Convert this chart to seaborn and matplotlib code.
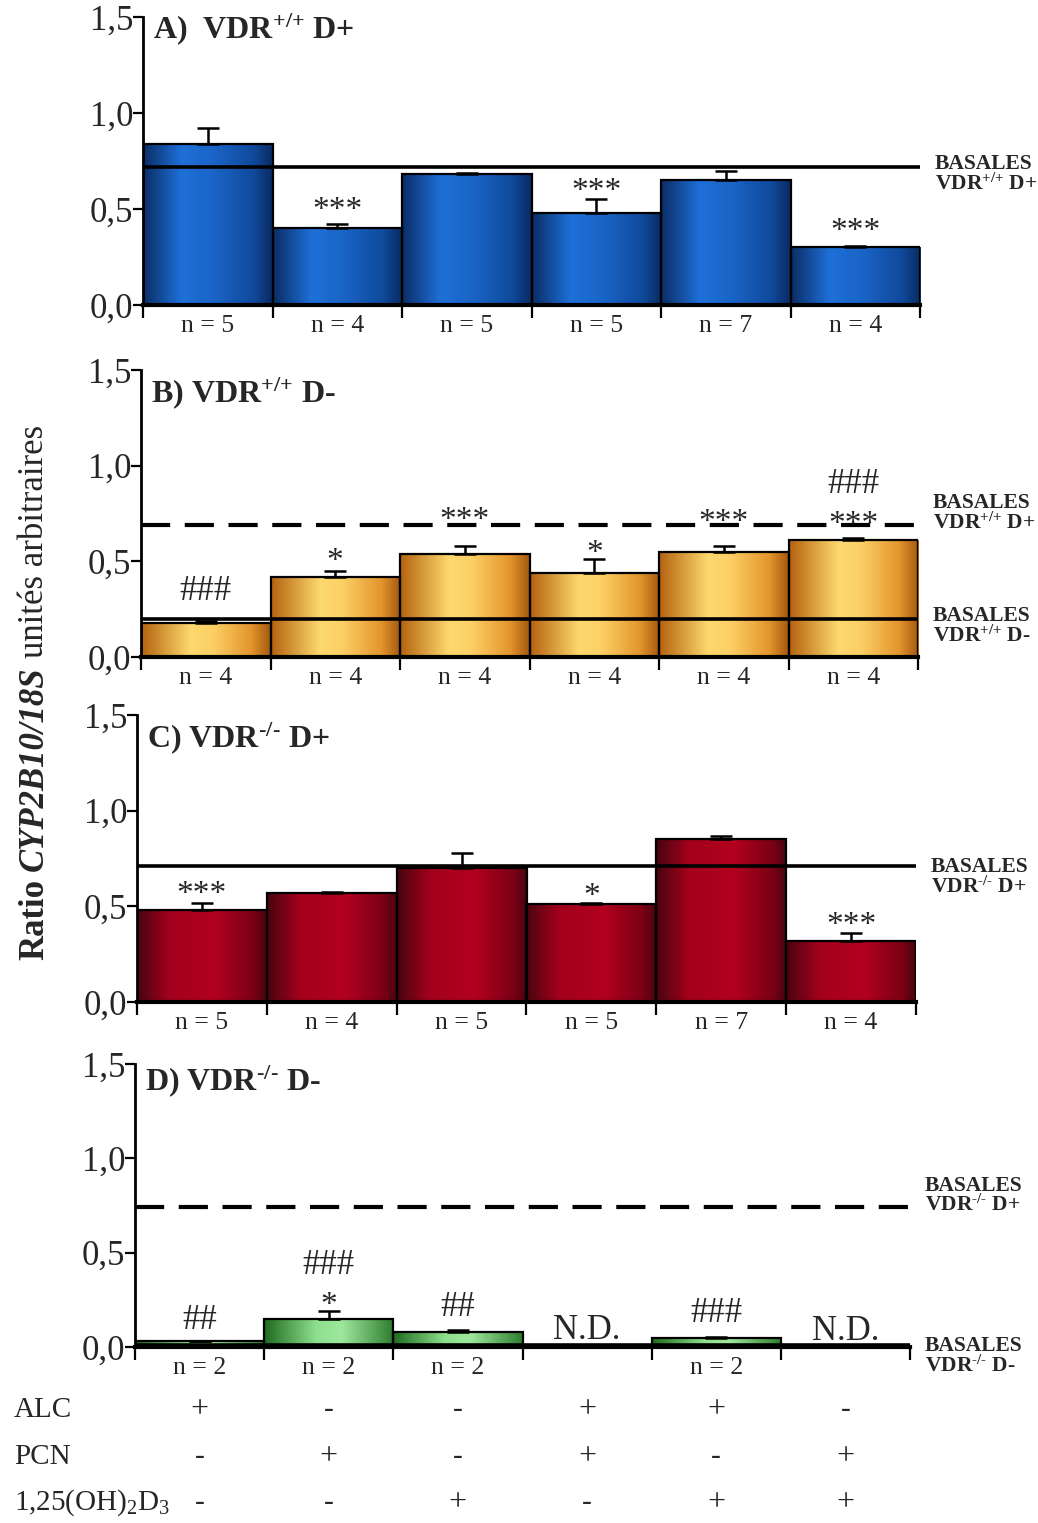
import numpy as np
import pandas as pd
import matplotlib
matplotlib.use('Agg')
import matplotlib.pyplot as plt
import matplotlib.transforms as mtransforms
from matplotlib.colors import LinearSegmentedColormap
import seaborn as sns

sns.set_style('ticks')
plt.rcParams['font.family'] = ['Liberation Serif', 'DejaVu Serif']
plt.rcParams['mathtext.fontset'] = 'custom'
plt.rcParams['mathtext.rm'] = 'Liberation Serif'
plt.rcParams['mathtext.bf'] = 'Liberation Serif:bold'
plt.rcParams['mathtext.it'] = 'Liberation Serif:italic'

# ---- data ----
treatments = ['ALC', 'PCN', 'D3', 'ALC+PCN', 'ALC+D3', 'PCN+D3']

means_A = [0.84, 0.40, 0.68, 0.48, 0.65, 0.30]
err_A = [0.08, 0.02, 0.01, 0.07, 0.05, 0.005]
n_A = [5, 4, 5, 5, 7, 4]

means_B = [0.18, 0.42, 0.54, 0.44, 0.55, 0.61]
err_B = [0.01, 0.03, 0.04, 0.07, 0.03, 0.01]
n_B = [4, 4, 4, 4, 4, 4]

means_C = [0.48, 0.57, 0.70, 0.51, 0.85, 0.32]
err_C = [0.04, 0.005, 0.08, 0.01, 0.02, 0.04]
n_C = [5, 4, 5, 5, 7, 4]

means_D = [0.03, 0.15, 0.08, 0.0, 0.05, 0.0]   # 0 = N.D.
err_D = [0.0, 0.04, 0.01, 0.0, 0.005, 0.0]
n_D = [2, 2, 2, None, 2, None]

basal_A = 0.72        # BASALES VDR+/+ D+
basal_B_dplus = 0.69  # dashed, BASALES VDR+/+ D+
basal_B = 0.20        # BASALES VDR+/+ D-
basal_C = 0.71        # BASALES VDR-/- D+
basal_D_dplus = 0.74  # dashed, BASALES VDR-/- D+
basal_D = 0.012       # BASALES VDR-/- D-

alc = ['+', '-', '-', '+', '+', '-']
pcn = ['-', '+', '-', '+', '-', '+']
d3 = ['-', '-', '+', '-', '+', '+']

# significance marks: (bar, y, text)
marks_A = [(1, 0.49, '***'), (3, 0.59, '***'), (5, 0.38, '***')]
marks_B = [(0, 0.34, '###'), (1, 0.50, '*'), (2, 0.71, '***'), (3, 0.54, '*'),
           (4, 0.70, '***'), (5, 0.90, '###'), (5, 0.69, '***')]
marks_C = [(0, 0.56, '***'), (3, 0.55, '*'), (5, 0.40, '***')]
marks_D = [(0, 0.14, '##'), (1, 0.43, '###'), (1, 0.22, '*'), (2, 0.21, '##'),
           (3, 0.09, 'N.D.'), (4, 0.18, '###'), (5, 0.08, 'N.D.')]

cmaps = {
    'blue': LinearSegmentedColormap.from_list('b', [(0, '#0b2d66'), (0.3, '#1e70d8'), (0.55, '#1a64c6'),
                                                    (0.85, '#0f4a9c'), (1, '#0a2a60')]),
    'orange': LinearSegmentedColormap.from_list('o', [(0, '#b4620f'), (0.38, '#fdd96e'), (0.55, '#fcd066'),
                                                      (0.85, '#e3952c'), (1, '#a3580f')]),
    'red': LinearSegmentedColormap.from_list('r', [(0, '#48050f'), (0.25, '#a2001c'), (0.6, '#b2001f'),
                                                   (0.9, '#7a0015'), (1, '#48050f')]),
    'green': LinearSegmentedColormap.from_list('g', [(0, '#1f6b1f'), (0.4, '#8ddf8d'), (0.6, '#9ee89e'),
                                                     (1, '#2d7d2d')]),
}

W, H = 1038, 1523
fig = plt.figure(figsize=(W / 100, H / 100), dpi=100)


def add_ax(l, r, y0, y15):
    return fig.add_axes([l / W, 1 - y0 / H, (r - l) / W, (y0 - y15) / H])


def shade_bars(ax, cmap):
    grad = np.linspace(0, 1, 256).reshape(1, -1)
    for p in ax.patches:
        h = p.get_height()
        if h <= 0:
            continue
        x0, y0, w = p.get_x(), p.get_y(), p.get_width()
        im = ax.imshow(grad, cmap=cmap, aspect='auto', origin='lower',
                       extent=[x0, x0 + w, y0, y0 + h], zorder=2, interpolation='bilinear')
        im.set_clip_path(p)
        p.set_facecolor('none')
        p.set_zorder(3)


def panel(ax, means, errs, ns, cmap, title, title_y, marks, basals):
    df = pd.DataFrame({'trt': treatments, 'val': means})
    sns.barplot(data=df, x='trt', y='val', order=treatments, width=1.0, color='white',
                edgecolor='black', linewidth=1.6, errorbar=None, ax=ax)
    shade_bars(ax, cmaps[cmap])
    idx = [i for i, m in enumerate(means) if m > 0]
    ax.errorbar(idx, [means[i] for i in idx], yerr=[np.zeros(len(idx)), [errs[i] for i in idx]],
                fmt='none', ecolor='black', elinewidth=1.8, capsize=8, capthick=1.8, zorder=4)
    for y, style, label, ly in basals:
        ax.hlines(y, -0.5, 5.5, colors='black', lw=2.6 if style == '-' else 3.0,
                  linestyles=style if style == '-' else (0, (7, 3.5)), zorder=5, clip_on=False)
        ax.text(1.019, ly, label, transform=mtransforms.blended_transform_factory(ax.transAxes, ax.transData),
                fontsize=15.5, fontweight='bold', va='center', ha='left', linespacing=0.95)
    for i, n in enumerate(ns):
        if n is None:
            continue
        ax.annotate(f'n = {n}', xy=(i, 0), xycoords=('data', 'axes fraction'), xytext=(0, -7),
                    textcoords='offset points', ha='center', va='top', fontsize=18.5)
    for i, y, s in marks:
        fs = 25 if s == 'N.D.' else (25 if '#' in s else 24)
        ax.text(i, y, s, ha='center', va='center', fontsize=fs, zorder=6)
    ax.text(-0.42, title_y, title, fontsize=23, fontweight='bold', va='baseline', ha='left')

    ax.set_xlim(-0.5, 5.5)
    ax.set_ylim(0, 1.5)
    ax.set_xlabel('')
    ax.set_ylabel('')
    ax.set_xticks(range(6))
    ax.set_xticklabels([''] * 6)
    ax.tick_params(axis='x', which='major', length=0)
    ax.set_xticks(np.arange(-0.5, 6, 1), minor=True)
    ax.tick_params(axis='x', which='minor', length=9, width=1.6, direction='out', color='black')
    ax.set_yticks([0, 0.5, 1.0, 1.5])
    ax.set_yticklabels(['0,0', '0,5', '1,0', '1,5'], fontsize=25)
    ax.tick_params(axis='y', length=7, width=1.6, pad=0, color='black')
    sns.despine(ax=ax)
    ax.spines['left'].set_linewidth(2.0)
    ax.spines['bottom'].set_linewidth(3.0)
    ax.spines['left'].set_color('black')
    ax.spines['bottom'].set_color('black')
    ax.set_facecolor('none')


axA = add_ax(143, 920, 305, 17)
axB = add_ax(141, 918, 657, 370)
axC = add_ax(137, 916, 1002, 715)
axD = add_ax(135, 910, 1347, 1064)

wt = r'VDR$^{\mathbf{{+}{/}{+}}}$'
ko = 'VDR$^{\\mathbf{{\u2010}{/}{\u2010}}}$'

panel(axA, means_A, err_A, n_A, 'blue', 'A)  ' + wt + ' D+', 1.39, marks_A,
      [(basal_A, '-', 'BASALES\n' + wt + ' D+', 0.68)])
panel(axB, means_B, err_B, n_B, 'orange', 'B) ' + wt + ' D-', 1.33, marks_B,
      [(basal_B_dplus, '--', 'BASALES\n' + wt + ' D+', 0.75),
       (basal_B, '-', 'BASALES\n' + wt + ' D-', 0.16)])
panel(axC, means_C, err_C, n_C, 'red', 'C) ' + ko + ' D+', 1.33, marks_C,
      [(basal_C, '-', 'BASALES\n' + ko + ' D+', 0.65)])
panel(axD, means_D, err_D, n_D, 'green', 'D) ' + ko + ' D-', 1.36, marks_D,
      [(basal_D_dplus, '--', 'BASALES\n' + ko + ' D+', 0.80),
       (basal_D, '-', 'BASALES\n' + ko + ' D-', -0.05)])

# treatment table under panel D
rows = [('ALC', alc, 1410), ('PCN', pcn, 1457), (r'1,25(OH)$_2$D$_3$', d3, 1503)]
tr = mtransforms.blended_transform_factory(axD.transData, fig.transFigure)
for label, signs, ypx in rows:
    fig.text(14 / W, 1 - ypx / H, label, fontsize=21, va='center', ha='left')
    for i, s in enumerate(signs):
        fig.text(i, 1 - ypx / H, s, transform=tr, fontsize=23 if s == '+' else 21,
                 va='center', ha='center')

# y label with mixed styles
renderer = fig.canvas.get_renderer()
pieces = [('Ratio', 'bold', 'normal'), ('CYP2B10/18S', 'bold', 'italic'),
          ('unités arbitraires', 'normal', 'normal')]
ypos = H - 960
for s, w, st in pieces:
    t = fig.text(43, ypos, s, transform=mtransforms.IdentityTransform(), rotation=90,
                 rotation_mode='anchor', ha='left', va='baseline', fontsize=25,
                 fontweight=w, fontstyle=st)
    bb = t.get_window_extent(renderer)
    ypos = bb.y1 + 8

fig.savefig('out.png', dpi=100)
